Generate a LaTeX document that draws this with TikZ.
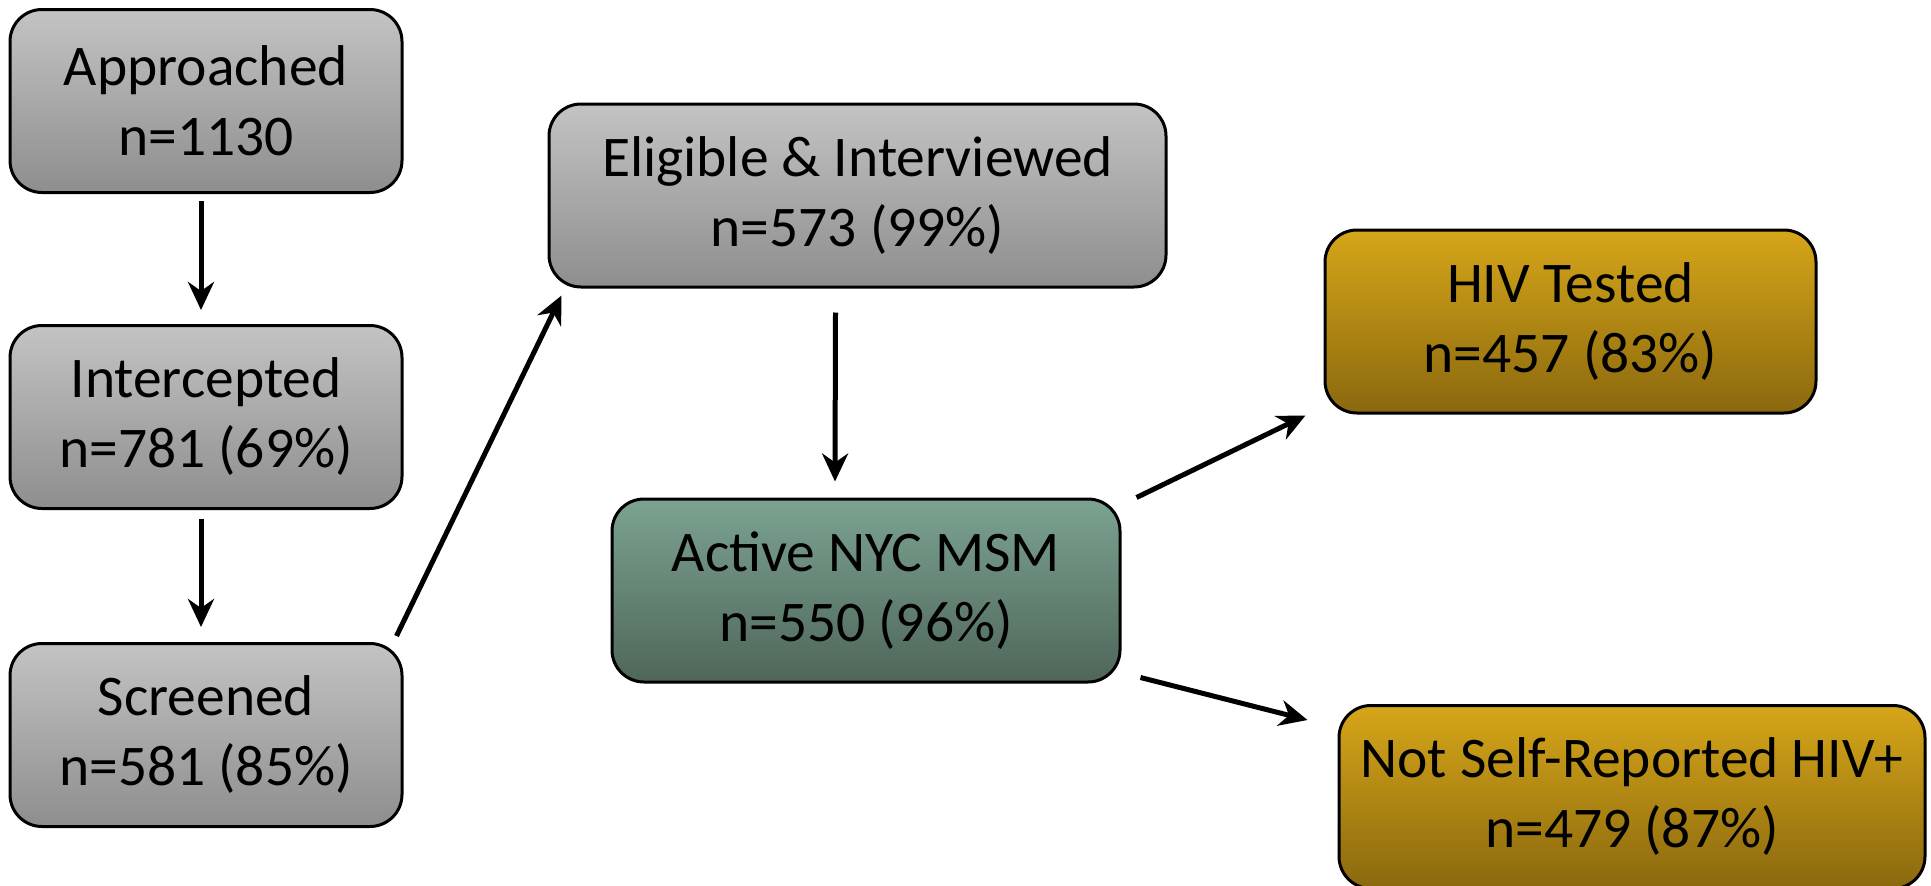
\documentclass[tikz,border=0pt]{standalone}
\usepackage{fontspec}
\setmainfont{Carlito}
\usetikzlibrary{arrows.meta}
\definecolor{greytop}{HTML}{C3C3C3}
\definecolor{greybot}{HTML}{8E8E8E}
\definecolor{greentop}{HTML}{7CA391}
\definecolor{greenbot}{HTML}{4E6659}
\definecolor{goldtop}{HTML}{D6A619}
\definecolor{goldbot}{HTML}{8A680E}
\tikzset{
  flowbox/.style={draw=black, line width=3pt, rounded corners=32pt,
    minimum height=183pt, inner sep=0pt, align=center,
    font=\fontsize{57.5}{70}\selectfont},
  greybox/.style={flowbox, top color=greytop, bottom color=greybot},
  greenbox/.style={flowbox, top color=greentop, bottom color=greenbot},
  goldbox/.style={flowbox, top color=goldtop, bottom color=goldbot},
  flowarrow/.style={line width=5pt, -{Stealth[length=28pt, width=26pt, inset=9pt]}}
}
\begin{document}
\begin{tikzpicture}[x=1pt, y=-1pt]
  \useasboundingbox (0,0) rectangle (1931,886);

  % left column
  \node[greybox, minimum width=392pt] (appr) at (206,101) {Approached\\n=1130};
  \node[greybox, minimum width=392pt] (inter) at (206,417) {Intercepted\\n=781 (69\%)};
  \node[greybox, minimum width=392pt] (scr) at (206,735) {Screened\\n=581 (85\%)};

  % middle column
  \node[greybox, minimum width=617pt] (elig) at (857.5,195.5) {Eligible \& Interviewed\\n=573 (99\%)};
  \node[greenbox, minimum width=508pt] (act) at (866,590.5) {Active NYC MSM\\n=550 (96\%)};

  % right column
  \node[goldbox, minimum width=491pt] (hiv) at (1570.5,321.5) {HIV Tested\\n=457 (83\%)};
  \node[goldbox, minimum width=586pt] (nsr) at (1632,797) {Not Self-Reported HIV+\\n=479 (87\%)};

  % connectors
  \draw[flowarrow] ([shift={(-5,7)}]appr.south) -- ([shift={(-5,-14)}]inter.north);
  \draw[flowarrow] ([shift={(-5,9)}]inter.south) -- ([shift={(-5,-15)}]scr.north);
  \draw[flowarrow] ([shift={(-7,-6)}]scr.north east) -- ([shift={(14,7)}]elig.south west);
  \draw[flowarrow] ([shift={(-22,24)}]elig.south) -- ([shift={(-31,-16)}]act.north);
  \draw[flowarrow] ([shift={(15,0)}]act.north east) -- ([shift={(-18,1)}]hiv.south west);
  \draw[flowarrow] ([shift={(19,-6)}]act.south east) -- ([shift={(-30,16)}]nsr.north west);
\end{tikzpicture}
\end{document}
